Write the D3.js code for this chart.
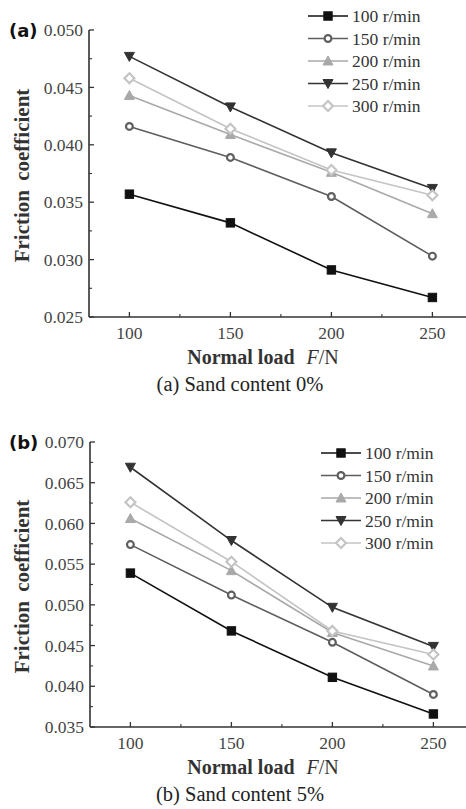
<!DOCTYPE html>
<html>
<head>
<meta charset="utf-8">
<script src="https://cdn.jsdelivr.net/npm/d3@7"></script>
<style>
  html, body { margin: 0; padding: 0; background: #fff; }
  svg { display: block; }
  .tick-lbl { font-family: "Liberation Serif", "Times New Roman", serif; font-size: 17.5px; fill: #444; }
  .ax-title { font-family: "Liberation Serif", "Times New Roman", serif; font-size: 20px; font-weight: bold; fill: #333; }
  .y-title { font-family: "Liberation Serif", "Times New Roman", serif; font-size: 21px; font-weight: bold; fill: #333; word-spacing: 4px; }
  .caption { font-family: "Liberation Serif", "Times New Roman", serif; font-size: 20.5px; fill: #222; }
  .panel-tag { font-family: "DejaVu Sans", sans-serif; font-size: 18px; font-weight: bold; fill: #111; }
  .leg-lbl { font-family: "Liberation Serif", "Times New Roman", serif; font-size: 17.5px; fill: #333; }
</style>
</head>
<body>
<svg id="chart" width="466" height="809"></svg>
<script>
// ---- data ----
const loads = [100, 150, 200, 250];
const speeds = ['100 r/min', '150 r/min', '200 r/min', '250 r/min', '300 r/min'];
const xTicks = [100, 150, 200, 250];

// (a) Sand content 0%
const a100 = [0.0357, 0.0332, 0.0291, 0.0267];
const a150 = [0.0416, 0.0389, 0.0355, 0.0303];
const a200 = [0.0443, 0.0409, 0.0376, 0.0340];
const a250 = [0.0477, 0.0433, 0.0393, 0.0362];
const a300 = [0.0458, 0.0414, 0.0378, 0.0356];
const aYTicks = [0.025, 0.030, 0.035, 0.040, 0.045, 0.050];

// (b) Sand content 5%
const b100 = [0.0539, 0.0468, 0.0411, 0.0366];
const b150 = [0.0574, 0.0512, 0.0454, 0.0390];
const b200 = [0.0606, 0.0542, 0.0466, 0.0425];
const b250 = [0.0669, 0.0579, 0.0497, 0.0449];
const b300 = [0.0626, 0.0553, 0.0468, 0.0439];
const bYTicks = [0.035, 0.040, 0.045, 0.050, 0.055, 0.060, 0.065, 0.070];

// series styling (by speed)
const styles = [
  { color: '#111', shape: 'square', fill: true },
  { color: '#5e5e5e', shape: 'circle', fill: false },
  { color: '#a9a9a9', shape: 'triUp', fill: true },
  { color: '#333', shape: 'triDown', fill: true },
  { color: '#c4c4c4', shape: 'diamond', fill: false },
];

const svg = d3.select('#chart');

function marker(g, shape, x, y, color, fill) {
  const s = 4.2;
  let el;
  if (shape === 'square') {
    el = g.append('rect').attr('x', x - s).attr('y', y - s).attr('width', 2 * s).attr('height', 2 * s);
  } else if (shape === 'circle') {
    el = g.append('circle').attr('cx', x).attr('cy', y).attr('r', 3.4);
  } else if (shape === 'triUp') {
    el = g.append('path').attr('d', `M${x},${y - 5} L${x + 5},${y + 4} L${x - 5},${y + 4} Z`);
  } else if (shape === 'triDown') {
    el = g.append('path').attr('d', `M${x},${y + 5} L${x + 5},${y - 4} L${x - 5},${y - 4} Z`);
  } else {
    el = g.append('path').attr('d', `M${x},${y - 5} L${x + 5},${y} L${x},${y + 5} L${x - 5},${y} Z`);
  }
  el.attr('fill', fill ? color : '#fff')
    .attr('stroke', color)
    .attr('stroke-width', fill ? 1 : 2.2);
}

function drawPanel(opts) {
  const { top, bottom, left, right, yDomain, yTicks, series, tag, caption, legX, legY } = opts;
  const g = svg.append('g');

  const x = d3.scaleLinear().domain([80, 270]).range([left, left + 190 * (101 / 50)]);
  const y = d3.scaleLinear().domain(yDomain).range([bottom, top]);

  // axes
  const axC = '#333';
  g.append('line').attr('x1', left).attr('x2', right).attr('y1', bottom).attr('y2', bottom)
    .attr('stroke', axC).attr('stroke-width', 1.6);
  g.append('line').attr('x1', left).attr('x2', left).attr('y1', top).attr('y2', bottom)
    .attr('stroke', axC).attr('stroke-width', 1.6);

  // y ticks (inward)
  yTicks.forEach((t, i) => {
    g.append('line').attr('x1', left).attr('x2', left + 5).attr('y1', y(t)).attr('y2', y(t))
      .attr('stroke', axC).attr('stroke-width', 1.3);
    g.append('text').attr('class', 'tick-lbl')
      .attr('x', left - 6).attr('y', y(t)).attr('dy', '0.35em')
      .attr('text-anchor', 'end').text(d3.format('.3f')(t));
    if (i < yTicks.length - 1) {
      const m = (t + yTicks[i + 1]) / 2;
      g.append('line').attr('x1', left).attr('x2', left + 3).attr('y1', y(m)).attr('y2', y(m))
        .attr('stroke', axC).attr('stroke-width', 1.1);
    }
  });

  // x ticks (inward)
  xTicks.forEach(t => {
    g.append('line').attr('x1', x(t)).attr('x2', x(t)).attr('y1', bottom).attr('y2', bottom - 5)
      .attr('stroke', axC).attr('stroke-width', 1.3);
    g.append('text').attr('class', 'tick-lbl')
      .attr('x', x(t)).attr('y', bottom + 22)
      .attr('text-anchor', 'middle').text(t);
  });
  [125, 175, 225].forEach(t => {
    g.append('line').attr('x1', x(t)).attr('x2', x(t)).attr('y1', bottom).attr('y2', bottom - 3)
      .attr('stroke', axC).attr('stroke-width', 1.1);
  });

  // lines + markers
  const line = d3.line().x((d, i) => x(loads[i])).y(d => y(d));
  series.forEach((vals, si) => {
    const st = styles[si];
    g.append('path').datum(vals).attr('d', line)
      .attr('fill', 'none').attr('stroke', st.color).attr('stroke-width', 1.6);
  });
  series.forEach((vals, si) => {
    const st = styles[si];
    vals.forEach((v, i) => marker(g, st.shape, x(loads[i]), y(v), st.color, st.fill));
  });

  // legend
  speeds.forEach((s, i) => {
    const st = styles[i];
    const ly = legY + i * 22.5;
    g.append('line').attr('x1', legX).attr('x2', legX + 40).attr('y1', ly).attr('y2', ly)
      .attr('stroke', st.color).attr('stroke-width', 1.6);
    marker(g, st.shape, legX + 20, ly, st.color, st.fill);
    g.append('text').attr('class', 'leg-lbl').attr('x', legX + 44).attr('y', ly).attr('dy', '0.35em').text(s);
  });

  // panel tag
  g.append('text').attr('class', 'panel-tag').attr('x', 9).attr('y', top + 7).text(tag);

  // y title
  const midY = (top + bottom) / 2 + 2;
  g.append('text').attr('class', 'y-title')
    .attr('transform', `translate(29,${midY}) rotate(-90)`)
    .attr('text-anchor', 'middle').text('Friction coefficient');

  // x title
  const xt = g.append('text').attr('class', 'ax-title')
    .attr('x', 263).attr('y', bottom + 47).attr('text-anchor', 'middle');
  xt.append('tspan').text('Normal load');
  xt.append('tspan').attr('dx', 12).attr('font-style', 'italic').attr('font-weight', 'normal').text('F');
  xt.append('tspan').attr('font-weight', 'normal').text('/N');

  g.append('text').attr('class', 'caption')
    .attr('x', 240).attr('y', bottom + 74).attr('text-anchor', 'middle').text(caption);
}

drawPanel({
  top: 30, bottom: 317, left: 89, right: 466,
  yDomain: [0.025, 0.050], yTicks: aYTicks,
  series: [a100, a150, a200, a250, a300],
  tag: '(a)', caption: '(a) Sand content 0%',
  legX: 308, legY: 16
});

drawPanel({
  top: 442, bottom: 727, left: 90, right: 466,
  yDomain: [0.035, 0.070], yTicks: bYTicks,
  series: [b100, b150, b200, b250, b300],
  tag: '(b)', caption: '(b) Sand content 5%',
  legX: 321, legY: 453
});
</script>
</body>
</html>
